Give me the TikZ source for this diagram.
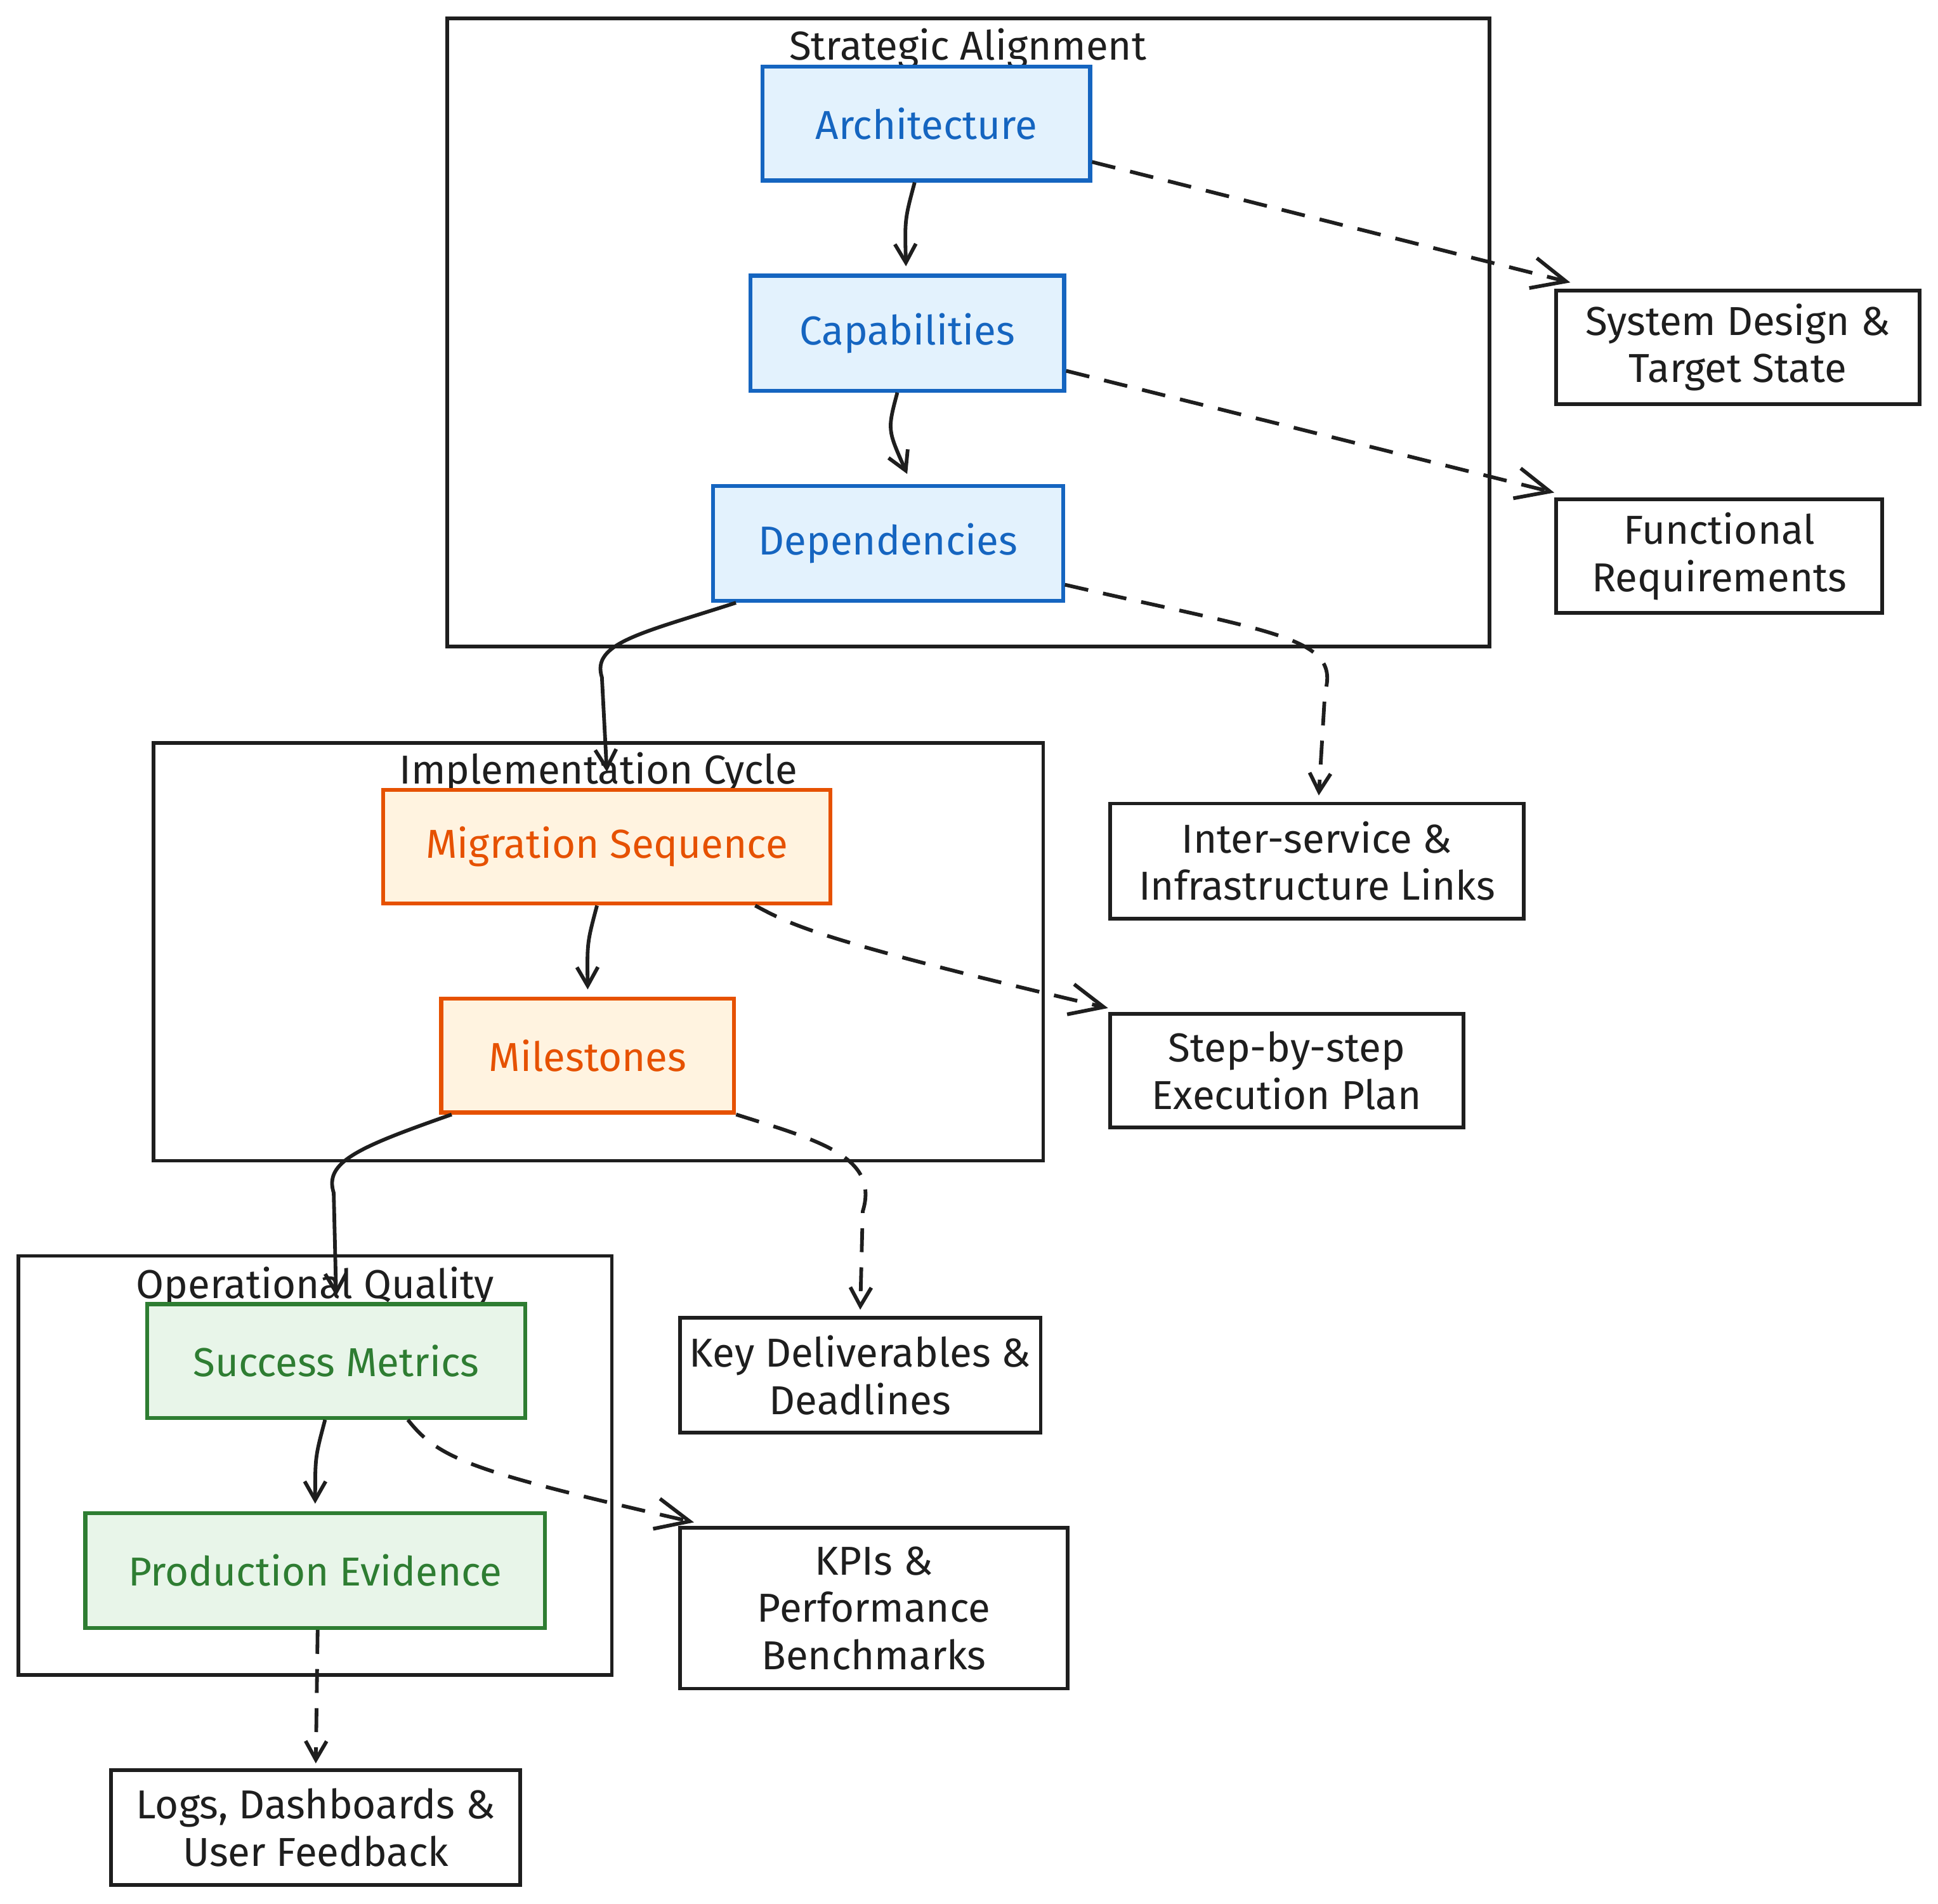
\documentclass[tikz,border=0pt]{standalone}
\usepackage{fontspec}
\setmainfont{Fira Sans}
\usetikzlibrary{arrows.meta}

\definecolor{ink}{HTML}{1E1E1E}
\definecolor{stratline}{HTML}{1565C0}
\definecolor{stratfill}{HTML}{E3F2FD}
\definecolor{implline}{HTML}{E65100}
\definecolor{implfill}{HTML}{FFF3E0}
\definecolor{opsline}{HTML}{2E7D32}
\definecolor{opsfill}{HTML}{E8F5E9}

\begin{document}
\begin{tikzpicture}[x=0.2mm, y=-0.2mm, line width=1.7pt, draw=ink, text=ink,
  font=\fontsize{18.6}{21.8}\selectfont,
  cluster/.style={draw=ink, line width=1.7pt},
  title/.style={inner sep=0pt},
  box/.style={draw=ink, rectangle, align=center, inner sep=0pt},
  stratbox/.style={box, draw=stratline, fill=stratfill, text=stratline, line width=1.8pt},
  implbox/.style={box, draw=implline, fill=implfill, text=implline, line width=1.8pt},
  opsbox/.style={box, draw=opsline, fill=opsfill, text=opsline, line width=1.8pt},
  flow/.style={draw=ink, -{Straight Barb[length=3mm, width=3.4mm, line width=1.7pt]}},
  ref/.style={flow, dash pattern=on 11pt off 7pt},
  bighead/.style={-{Straight Barb[length=5.5mm, width=5mm, line width=1.7pt]}}]
  \useasboundingbox (0,0) rectangle (1568,1540);

  % Strategic Alignment
  \draw[cluster] (362,15) rectangle (1205,523);
  \node[title] (stratname) at (783,39) {Strategic Alignment};
  \node[stratbox, minimum width=53mm, minimum height=18.4mm] (arch) at (749.5,100) {Architecture};
  \node[stratbox, minimum width=50.8mm, minimum height=18.6mm] (cap) at (734,269.5) {Capabilities};
  \node[stratbox, minimum width=56.6mm, minimum height=18.6mm] (dep) at (718.5,439.5) {Dependencies};

  % Implementation Cycle
  \draw[cluster] (124,601) rectangle (844,939);
  \node[title] (implname) at (484,625) {Implementation Cycle};
  \node[implbox, minimum width=72.4mm, minimum height=18.4mm] (mig) at (491,685) {Migration Sequence};
  \node[implbox, minimum width=47.4mm, minimum height=18.4mm] (mile) at (475.5,854) {Milestones};

  % Operational Quality
  \draw[cluster] (15,1016) rectangle (495,1355);
  \node[title] (opsname) at (255,1041) {Operational Quality};
  \node[opsbox, minimum width=61.2mm, minimum height=18.4mm] (succ) at (272,1101) {Success Metrics};
  \node[opsbox, minimum width=74.4mm, minimum height=18.6mm] (prod) at (255,1270.5) {Production Evidence};

  % outputs
  \node[box, minimum width=58.8mm, minimum height=18.4mm] (sysd) at (1406,281) {System Design \&\\Target State};
  \node[box, minimum width=52.8mm, minimum height=18.4mm] (func) at (1391,450) {Functional\\Requirements};
  \node[box, minimum width=67mm, minimum height=18.6mm] (inter) at (1065.5,696.5) {Inter-service \&\\Infrastructure Links};
  \node[box, minimum width=57.2mm, minimum height=18.4mm] (stepplan) at (1041,866) {Step-by-step\\Execution Plan};
  \node[box, minimum width=58.4mm, minimum height=18.6mm] (keyd) at (696,1112.5) {Key Deliverables \&\\Deadlines};
  \node[box, minimum width=62.8mm, minimum height=26mm] (kpis) at (707,1301) {KPIs \&\\Performance\\Benchmarks};
  \node[box, minimum width=66.2mm, minimum height=18.6mm] (logs) at (255.5,1478.5) {Logs, Dashboards \&\\User Feedback};

  % main flow
  \draw[flow] ([xshift=-1.9mm]arch.south) .. controls +(-8,30) .. ([xshift=-0.2mm, yshift=1.2mm]cap.north);
  \draw[flow] ([xshift=-1.6mm]cap.south) .. controls +(-8,30) .. ([yshift=1.6mm]cap.north |- dep.north);
  \draw[flow] ([xshift=4mm]dep.south west) .. controls (520,512) and (478,520) .. (487,548) -- ([yshift=2.6mm]mig.north);
  \draw[flow] ([xshift=-1.6mm]mig.south) .. controls +(-8,30) .. ([yshift=1.2mm]mile.north);
  \draw[flow] ([xshift=2mm]mile.south west) .. controls (290,928) and (262,940) .. (270,965) -- ([yshift=1mm]succ.north);
  \draw[flow] ([xshift=-1.8mm]succ.south) .. controls +(-8,30) .. ([yshift=1.2mm]prod.north);

  % outputs
  \draw[ref, bighead] ([yshift=-6.2mm]arch.east) -- ([xshift=2.6mm, yshift=1mm]sysd.north west);
  \draw[ref, bighead] ([yshift=-6.1mm]cap.east) -- ([yshift=0.8mm]func.north west);
  \draw[ref] ([yshift=-6.7mm]dep.east) .. controls (1030,512) and (1085,515) .. (1072,560) -- ([xshift=0.3mm, yshift=1mm]inter.north);
  \draw[ref, bighead] ([xshift=24mm]mig.south) .. controls (640,748) and (660,760) .. ([yshift=0.6mm]stepplan.north west);
  \draw[ref] (mile.south east) .. controls (660,922) and (712,935) .. (698,980) -- ([yshift=1mm]keyd.north);
  \draw[ref, bighead] ([xshift=11.6mm]succ.south) .. controls (355,1180) and (380,1190) .. ([xshift=2.6mm, yshift=0.6mm]kpis.north west);
  \draw[ref] ([xshift=0.4mm]prod.south) -- ([yshift=0.8mm]logs.north);
\end{tikzpicture}
\end{document}
